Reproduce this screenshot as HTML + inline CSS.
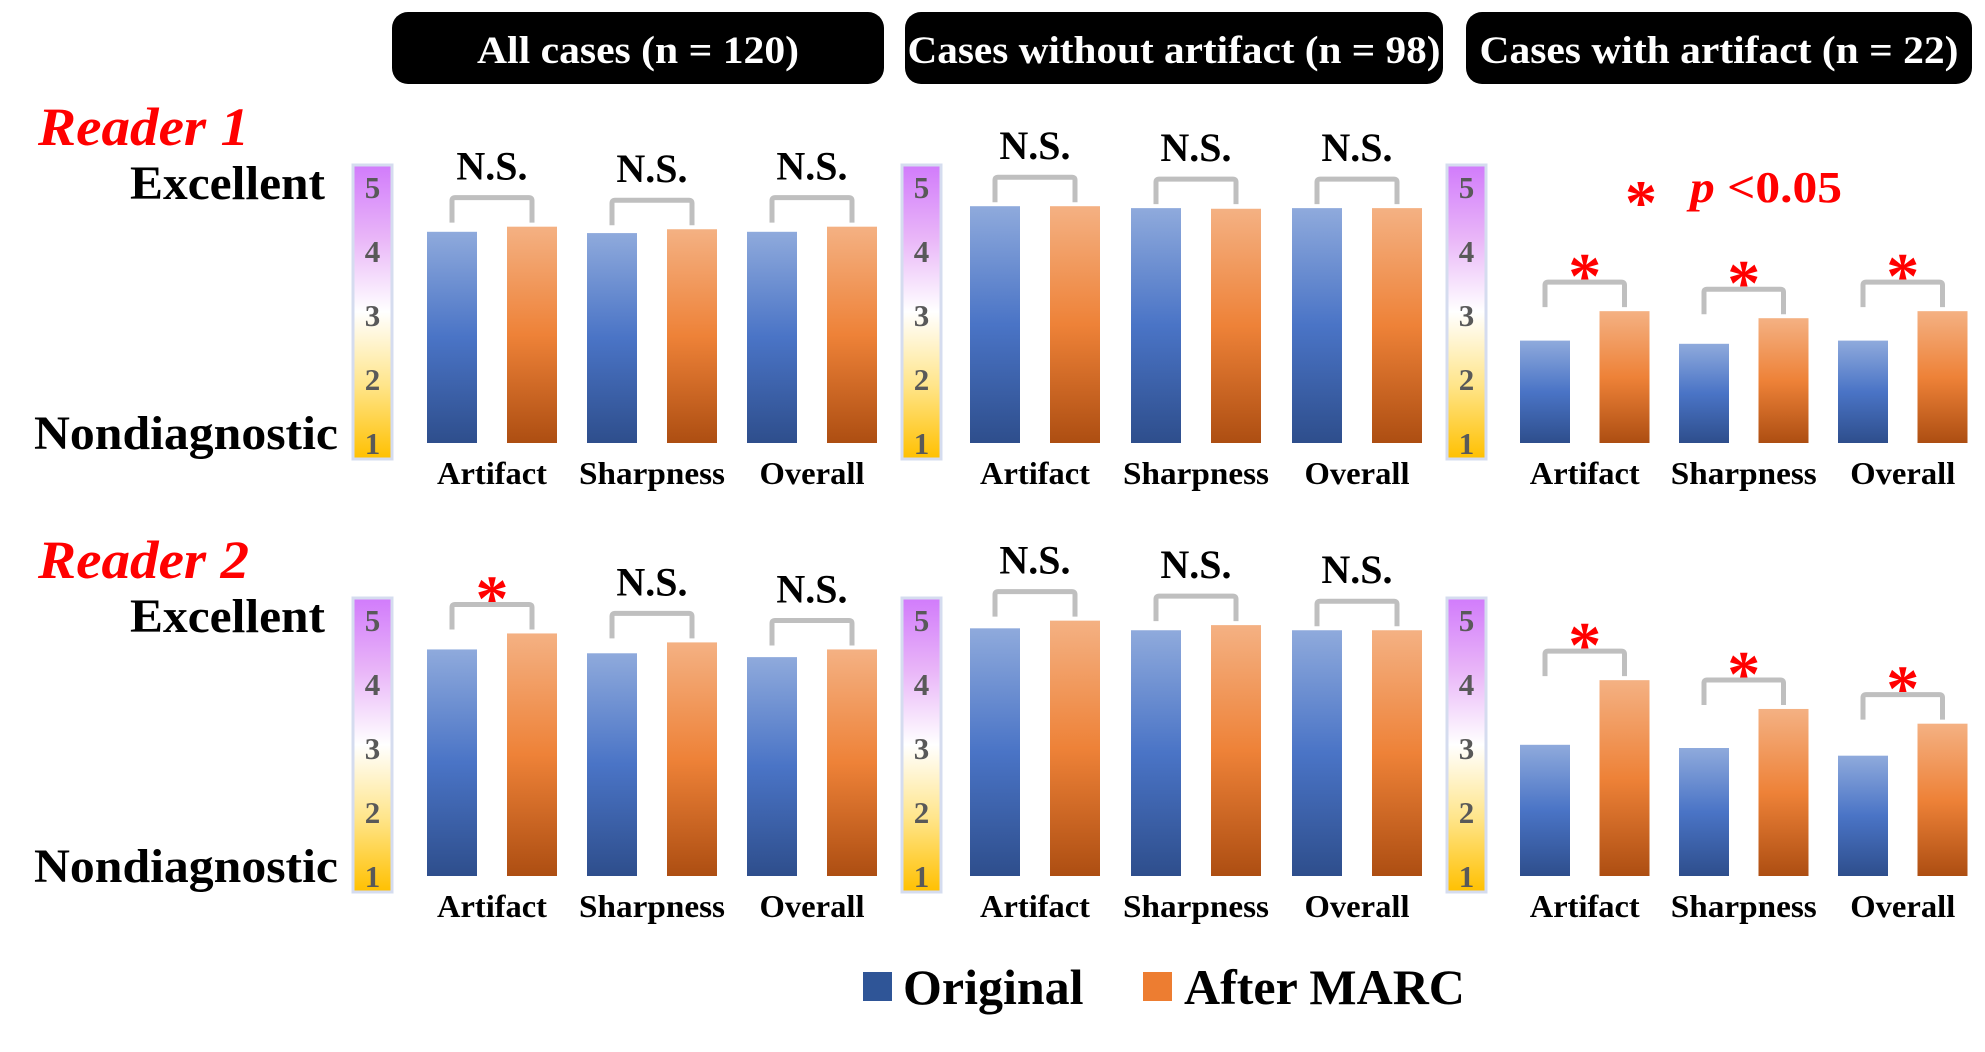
<!DOCTYPE html>
<html><head><meta charset="utf-8">
<style>
html,body{margin:0;padding:0;background:#fff;}
svg{display:block;}
text{font-family:"Liberation Serif",serif;font-weight:bold;}
</style></head>
<body>
<svg id="chart" width="1985" height="1052" viewBox="0 0 1985 1052" xmlns="http://www.w3.org/2000/svg">
<defs>
<linearGradient id="gBlue" x1="0" y1="0" x2="0" y2="1">
<stop offset="0" stop-color="#8faadc"/><stop offset="0.5" stop-color="#4a74c6"/><stop offset="1" stop-color="#2e4e8c"/></linearGradient>
<linearGradient id="gOrange" x1="0" y1="0" x2="0" y2="1">
<stop offset="0" stop-color="#f4b183"/><stop offset="0.5" stop-color="#ee8238"/><stop offset="1" stop-color="#ad4e12"/></linearGradient>
<linearGradient id="gScale" x1="0" y1="0" x2="0" y2="1">
<stop offset="0" stop-color="#d17bfb"/><stop offset="0.25" stop-color="#e9b6f8"/><stop offset="0.5" stop-color="#ffffff"/><stop offset="0.75" stop-color="#ffe58a"/><stop offset="1" stop-color="#ffc000"/></linearGradient>
</defs>
<g id="root"></g>
</svg>
<script>
const categories = ['Artifact','Sharpness','Overall'];
const panelTitles = ['All cases (n = 120)','Cases without artifact (n = 98)','Cases with artifact (n = 22)'];
const scaleTicks = [1,2,3,4,5];
const r1Original = [[4.30,4.28,4.30],[4.70,4.67,4.67],[2.60,2.55,2.60]];
const r1Marc     = [[4.38,4.34,4.38],[4.70,4.66,4.67],[3.06,2.95,3.06]];
const r2Original = [[4.54,4.48,4.42],[4.87,4.84,4.84],[3.05,3.00,2.88]];
const r2Marc     = [[4.79,4.65,4.54],[4.99,4.92,4.84],[4.06,3.61,3.38]];
const r1Sig = [['N.S.','N.S.','N.S.'],['N.S.','N.S.','N.S.'],['*','*','*']];
const r2Sig = [['*','N.S.','N.S.'],['N.S.','N.S.','N.S.'],['*','*','*']];

const NS='http://www.w3.org/2000/svg';
const root=document.getElementById('root');
function mk(tag,attrs,parent){const e=document.createElementNS(NS,tag);for(const k in attrs)e.setAttribute(k,attrs[k]);(parent||root).appendChild(e);return e;}
const rowBase=[443,876];
const rowOff=[0,433];
const unit=64;
function yScale(row,v){return rowBase[row]-(v-1)*unit;}
const panelX=[427,970,1520];
const pairGap=[80,80,79.5];
const groupGap=[160,161,159];
const scaleX=[353,902,1447];
const barW=50;
function barX(p,c,s){return panelX[p]+c*groupGap[p]+s*pairGap[p];}
const catLen={Artifact:110,Sharpness:146,Overall:105};

const boxes=[[392,884],[905,1443],[1466,1972]];
const titleLen=[322,533,479];
boxes.forEach((b,i)=>{
  const r=mk('rect',{x:b[0],y:12,width:b[1]-b[0],height:72,rx:16,fill:'#000'});
  
  
  const t=mk('text',{x:(b[0]+b[1])/2,y:63,'text-anchor':'middle','font-size':39,fill:'#fff',textLength:titleLen[i],lengthAdjust:'spacingAndGlyphs'});
  t.textContent=panelTitles[i];
  
  
});

const readers=['Reader 1','Reader 2'];
const origs=[r1Original,r2Original], marcs=[r1Marc,r2Marc], sigs=[r1Sig,r2Sig];
for(let row=0;row<2;row++){
  const off=rowOff[row];
  const rl=mk('text',{x:38,y:145+off,'font-size':54,fill:'#ff0000','font-style':'italic',textLength:211,lengthAdjust:'spacingAndGlyphs'});
  rl.textContent=readers[row];
  
  
  const ex=mk('text',{x:130,y:199+off,'font-size':48,fill:'#000',textLength:195,lengthAdjust:'spacingAndGlyphs'});
  ex.textContent='Excellent';
  
  
  const nd=mk('text',{x:34,y:449+off,'font-size':48,fill:'#000',textLength:304,lengthAdjust:'spacingAndGlyphs'});
  nd.textContent='Nondiagnostic';
  
  
  for(let p=0;p<3;p++){
    const sx=scaleX[p];
    const sb=mk('rect',{x:sx,y:165+off,width:39,height:294,fill:'url(#gScale)',stroke:'#d5dcef','stroke-width':3});
    
    
    scaleTicks.forEach(v=>{
      const t=mk('text',{x:sx+19.5,y:yScale(row,v)+11,'text-anchor':'middle','font-size':31,fill:'#595959'});
      t.textContent=v;
      
      
    });
    for(let c=0;c<3;c++){
      const vo=origs[row][p][c], vm=marcs[row][p][c];
      const x0=barX(p,c,0), x1=barX(p,c,1);
      const b0=mk('rect',{x:x0,y:yScale(row,vo),width:barW,height:rowBase[row]-yScale(row,vo),fill:'url(#gBlue)'});
      
      
      const b1=mk('rect',{x:x1,y:yScale(row,vm),width:barW,height:rowBase[row]-yScale(row,vm),fill:'url(#gOrange)'});
      
      
      const top=Math.min(yScale(row,vo),yScale(row,vm));
      const bt=top-29;
      const br=mk('path',{d:`M${x0+25} ${bt+25} L${x0+25} ${bt+3} Q${x0+25} ${bt} ${x0+28} ${bt} L${x1+22} ${bt} Q${x1+25} ${bt} ${x1+25} ${bt+3} L${x1+25} ${bt+25}`,fill:'none',stroke:'#bfbfbf','stroke-width':5});
      
      
      const s=sigs[row][p][c];
      const cx=(x0+x1+barW)/2;
      let st;
      if(s==='*'){st=mk('text',{x:cx,y:bt+16,'text-anchor':'middle','font-size':66,fill:'#ff0000'});}
      else{st=mk('text',{x:cx,y:bt-18,'text-anchor':'middle','font-size':40,fill:'#000'});}
      st.textContent=s;
      
      
      const cl=mk('text',{x:cx,y:rowBase[row]+41,'text-anchor':'middle','font-size':32,fill:'#000',textLength:catLen[categories[c]],lengthAdjust:'spacingAndGlyphs'});
      cl.textContent=categories[c];
      
      
    }
  }
}
const pa=mk('text',{x:1641,y:224,'text-anchor':'middle','font-size':64,fill:'#ff0000'});
pa.textContent='*';


const pn=mk('text',{x:1690,y:202,'font-size':44,fill:'#ff0000',textLength:152,lengthAdjust:'spacingAndGlyphs'});
pn.innerHTML='<tspan font-style="italic">p</tspan> &lt;0.05';


const l1=mk('rect',{x:863,y:972,width:29,height:29,fill:'#2f5597'});


const lt1=mk('text',{x:903,y:1004,'font-size':50,fill:'#000'});
lt1.textContent='Original';


const l2=mk('rect',{x:1143,y:972,width:29,height:29,fill:'#ed7d31'});


const lt2=mk('text',{x:1184,y:1004,'font-size':50,fill:'#000'});
lt2.textContent='After MARC';


</script>
</body></html>
